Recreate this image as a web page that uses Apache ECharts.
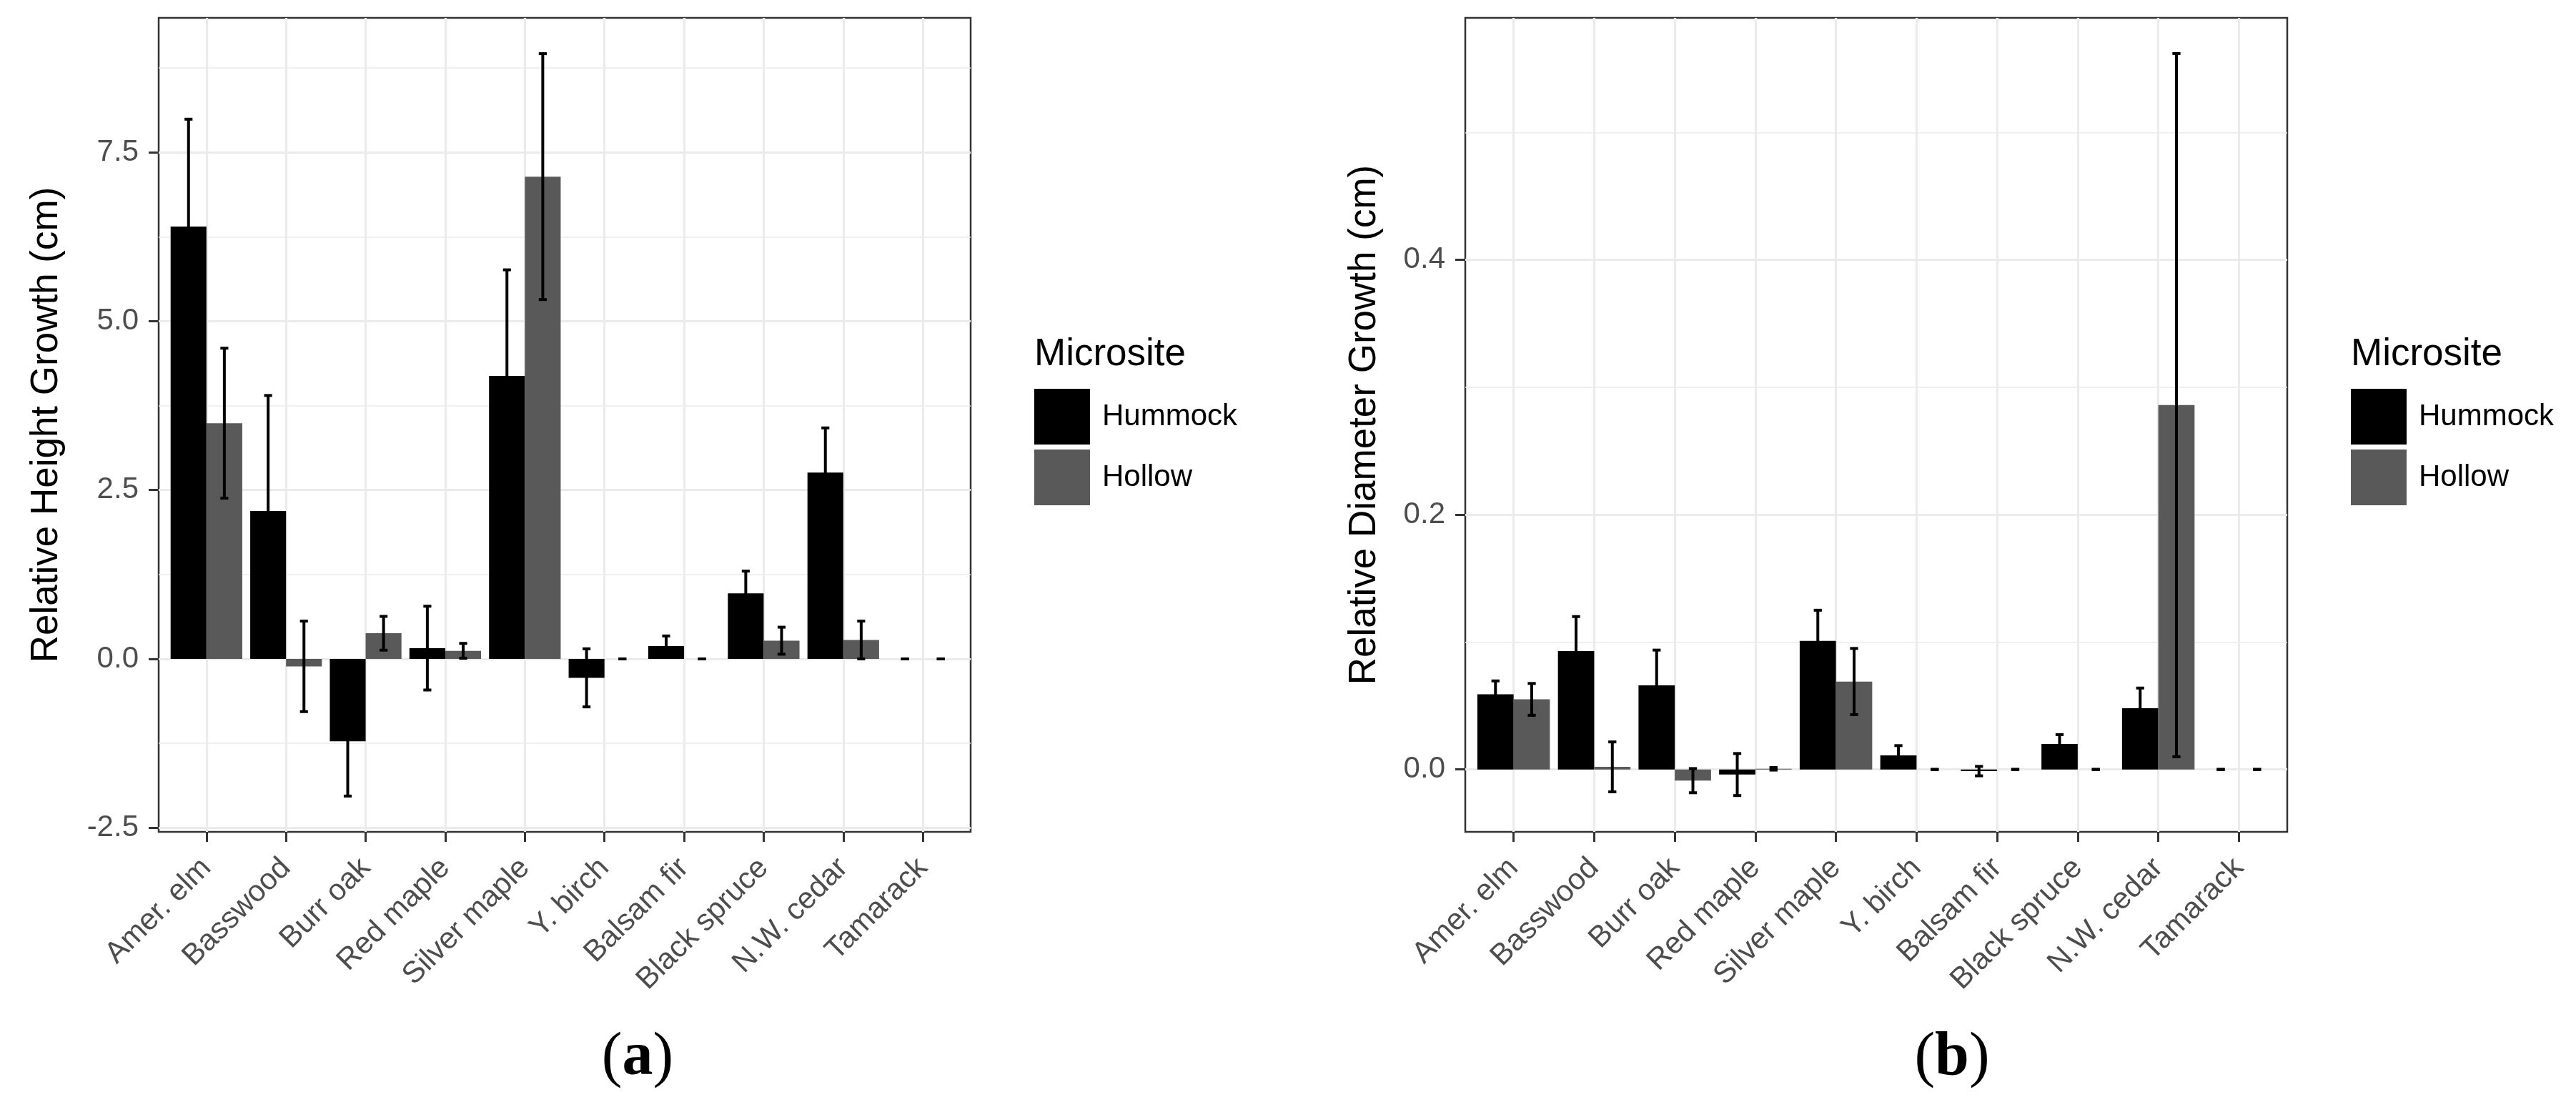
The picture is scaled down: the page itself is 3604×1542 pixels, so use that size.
<!DOCTYPE html>
<html>
<head>
<meta charset="utf-8">
<script src="https://cdn.jsdelivr.net/npm/echarts@6/dist/echarts.min.js"></script>
<style>
html, body { margin: 0; padding: 0; background: #fff; }
#chart { width: 3604px; height: 1542px; }
</style>
</head>
<body>
<div id="chart"></div>
<script>
// species on the x axis
var categories = ['Amer. elm', 'Basswood', 'Burr oak', 'Red maple', 'Silver maple',
	'Y. birch', 'Balsam fir', 'Black spruce', 'N.W. cedar', 'Tamarack'];

// (a) relative height growth, mean and error
var heightHummock = [6.40, 2.19, -1.22, 0.16, 4.19, -0.28, 0.19, 0.97, 2.76, 0];
var heightHummockErr = [1.59, 1.71, 0.81, 0.62, 1.57, 0.43, 0.15, 0.33, 0.66, 0];
var heightHollow = [3.49, -0.11, 0.38, 0.12, 7.14, 0, 0, 0.27, 0.28, 0];
var heightHollowErr = [1.11, 0.67, 0.25, 0.11, 1.82, 0, 0, 0.20, 0.28, 0];

// (b) relative diameter growth, mean and error
var diamHummock = [0.059, 0.093, 0.066, -0.004, 0.101, 0.011, -0.0013, 0.020, 0.048, 0];
var diamHummockErr = [0.0105, 0.027, 0.0277, 0.0165, 0.024, 0.0077, 0.0037, 0.0073, 0.0159, 0];
var diamHollow = [0.055, 0.002, -0.0088, 0.0005, 0.069, 0, 0, 0, 0.286, 0];
var diamHollowErr = [0.0125, 0.0196, 0.0095, 0.001, 0.026, 0, 0, 0, 0.276, 0];

// tick labels
var heightTicks = [-2.5, 0, 2.5, 5, 7.5];
var heightMinor = [-1.25, 1.25, 3.75, 6.25, 8.75];
var diamTicks = [0, 0.2, 0.4];
var diamMinor = [0.1, 0.3, 0.5];

var catIndex = categories.map(function (c, i) { return i; });
var FONT = '"Liberation Sans", Arial, Helvetica, sans-serif';

var panels = [
	{ left: 222, width: 1136, min: -2.56, max: 9.49, ticks: heightTicks, minor: heightMinor,
		title: 'Relative Height Growth (cm)', nameGap: 130, legendLeft: 1447, caption: 'a', capX: 892,
		hum: heightHummock, humErr: heightHummockErr, hol: heightHollow, holErr: heightHollowErr },
	{ left: 2050, width: 1150, min: -0.049, max: 0.590, ticks: diamTicks, minor: diamMinor,
		title: 'Relative Diameter Growth (cm)', nameGap: 114, legendLeft: 3289, caption: 'b', capX: 2731,
		hum: diamHummock, humErr: diamHummockErr, hol: diamHollow, holErr: diamHollowErr }
];

function renderErrors(params, api) {
	var x = api.value(0) + (api.value(3) === 0 ? -0.225 : 0.225);
	var mean = api.value(1), err = api.value(2);
	var hi = api.coord([x, mean + err]);
	var lo = api.coord([x, mean - err]);
	var half = api.size([0.05, 0])[0];
	var style = { stroke: '#000', lineWidth: 4 };
	return {
		type: 'group',
		children: [
			{ type: 'line', shape: { x1: hi[0], y1: hi[1], x2: lo[0], y2: lo[1] }, style: style },
			{ type: 'line', shape: { x1: hi[0] - half, y1: hi[1], x2: hi[0] + half, y2: hi[1] }, style: style },
			{ type: 'line', shape: { x1: lo[0] - half, y1: lo[1], x2: lo[0] + half, y2: lo[1] }, style: style }
		]
	};
}

var grid = [], xAxis = [], yAxis = [], series = [], legend = [], graphic = [];

panels.forEach(function (p, k) {
	grid.push({
		left: p.left, top: 25, width: p.width, height: 1139,
		show: true, borderColor: '#333333', borderWidth: 2.5,
		outerBoundsMode: 'none'
	});
	xAxis.push({
		type: 'value', gridIndex: k, min: -0.6, max: 9.6, position: 'bottom',
		axisLine: { show: false, onZero: false },
		axisTick: { show: true, length: 14, customValues: catIndex,
			lineStyle: { color: '#333333', width: 3 } },
		axisLabel: { customValues: catIndex, rotate: 45, margin: 44,
			fontFamily: FONT, fontSize: 42, color: '#4D4D4D',
			formatter: function (v) { return categories[Math.round(v)]; } },
		splitLine: { show: true, lineStyle: { color: '#EBEBEB', width: 3.2 } }
	});
	yAxis.push({
		type: 'value', gridIndex: k, min: p.min, max: p.max, position: 'left',
		name: p.title, nameLocation: 'middle', nameGap: p.nameGap,
		nameTextStyle: { fontFamily: FONT, fontSize: 53, color: '#000' },
		axisLine: { show: false, onZero: false },
		axisTick: { show: true, length: 14, customValues: p.ticks,
			lineStyle: { color: '#333333', width: 3 } },
		axisLabel: { customValues: p.ticks, margin: 28,
			fontFamily: FONT, fontSize: 42, color: '#4D4D4D',
			formatter: function (v) { return v.toFixed(1); } },
		splitLine: { show: true, lineStyle: { color: '#EBEBEB', width: 3.2 } }
	});
	yAxis.push({
		type: 'value', gridIndex: k, min: p.min, max: p.max, position: 'right',
		axisLine: { show: false, onZero: false },
		axisTick: { show: false, customValues: p.minor },
		axisLabel: { show: false },
		splitLine: { show: true, lineStyle: { color: '#EBEBEB', width: 1.6 } }
	});

	series.push({
		name: 'Hummock', type: 'bar', xAxisIndex: k, yAxisIndex: 2 * k,
		barGap: '0%', barCategoryGap: '10%',
		itemStyle: { color: '#000000' },
		data: catIndex.map(function (i) { return [i, p.hum[i]]; })
	});
	series.push({
		name: 'Hollow', type: 'bar', xAxisIndex: k, yAxisIndex: 2 * k,
		barGap: '0%', barCategoryGap: '10%',
		itemStyle: { color: '#595959' },
		data: catIndex.map(function (i) { return [i, p.hol[i]]; })
	});
	var errRows = [];
	catIndex.forEach(function (i) {
		errRows.push([i, p.hum[i], p.humErr[i], 0]);
		errRows.push([i, p.hol[i], p.holErr[i], 1]);
	});
	series.push({
		name: 'error' + k, type: 'custom', xAxisIndex: k, yAxisIndex: 2 * k,
		renderItem: renderErrors, encode: { x: 0, y: 1 },
		data: errRows, z: 5
	});

	legend.push({
		left: p.legendLeft, top: 544, orient: 'vertical', padding: 0,
		itemWidth: 78, itemHeight: 78, itemGap: 7, icon: 'rect',
		selectedMode: false,
		data: ['Hummock', 'Hollow'],
		textStyle: { fontFamily: FONT, fontSize: 42, color: '#000', padding: [0, 0, 0, 12] }
	});
	graphic.push({
		type: 'text', left: p.legendLeft, top: 470,
		style: { text: 'Microsite', font: '53px ' + FONT, fill: '#000' }
	});
	graphic.push({
		type: 'text', x: p.capX, y: 1481,
		style: {
			text: '({b|' + p.caption + '})',
			font: '86px "Liberation Serif", "DejaVu Serif", serif',
			fill: '#000', align: 'center', verticalAlign: 'middle',
			rich: { b: { fontWeight: 'bold', fontSize: 86, fontFamily: '"Liberation Serif", serif' } }
		}
	});
});

var chart = echarts.init(document.getElementById('chart'));
chart.setOption({
	animation: false,
	backgroundColor: '#ffffff',
	grid: grid,
	xAxis: xAxis,
	yAxis: yAxis,
	legend: legend,
	graphic: graphic,
	series: series
});
</script>
</body>
</html>
